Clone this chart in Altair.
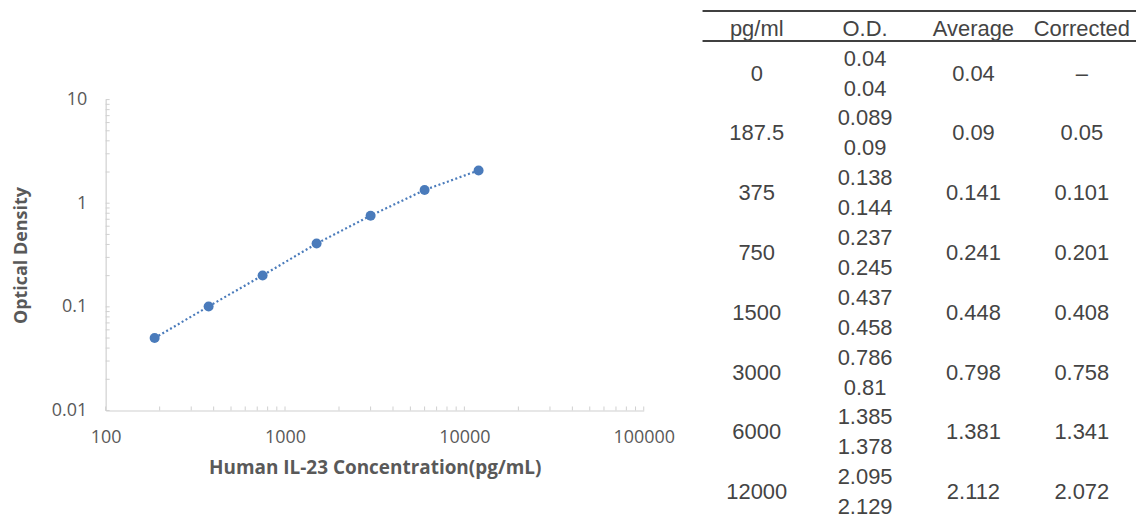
import altair as alt
import pandas as pd

# ---- standard curve data (corrected O.D. vs concentration) ----
conc = [187.5, 375, 750, 1500, 3000, 6000, 12000]
od_corrected = [0.05, 0.101, 0.201, 0.408, 0.758, 1.341, 2.072]

# ---- axis tick positions ----
x_major = [100, 1000, 10000, 100000]
y_major = [0.01, 0.1, 1, 10]
x_minor = [200, 300, 400, 500, 600, 700, 800, 900,
           2000, 3000, 4000, 5000, 6000, 7000, 8000, 9000,
           20000, 30000, 40000, 50000, 60000, 70000, 80000, 90000]
y_minor = [0.02, 0.03, 0.04, 0.05, 0.06, 0.07, 0.08, 0.09,
           0.2, 0.3, 0.4, 0.5, 0.6, 0.7, 0.8, 0.9,
           2, 3, 4, 5, 6, 7, 8, 9]

# ---- table data ----
headers = ["pg/ml", "O.D.", "Average", "Corrected"]
tbl_conc = ["0", "187.5", "375", "750", "1500", "3000", "6000", "12000"]
tbl_od1 = ["0.04", "0.089", "0.138", "0.237", "0.437", "0.786", "1.385", "2.095"]
tbl_od2 = ["0.04", "0.09", "0.144", "0.245", "0.458", "0.81", "1.378", "2.129"]
tbl_avg = ["0.04", "0.09", "0.141", "0.241", "0.448", "0.798", "1.381", "2.112"]
tbl_corr = ["–", "0.05", "0.101", "0.201", "0.408", "0.758", "1.341", "2.072"]

BLUE = "#4a7bbb"
AXIS_GREY = "#d0d0d0"
TEXT_GREY = "#595959"

W1, H1 = 540, 402
TOP1 = 90

curve = pd.DataFrame({"conc": conc, "od": od_corrected})
ticks_x = pd.DataFrame({"v": x_major + x_minor})
ticks_y = pd.DataFrame({"v": y_major + y_minor})

xscale = alt.Scale(type="log", domain=[100, 100000], nice=False)
yscale = alt.Scale(type="log", domain=[0.01, 10], nice=False, range=[H1, TOP1])

xaxis = alt.Axis(values=x_major, format="d", ticks=False, grid=False,
                 domainColor=AXIS_GREY, domainWidth=1.2,
                 labelColor=TEXT_GREY, labelFont="Open Sans", labelFontSize=18,
                 labelFlush=False, labelPadding=18,
                 title="Human IL-23 Concentration(pg/mL)",
                 titleFont="Open Sans", titleFontSize=19, titleFontWeight="bold",
                 titleColor=TEXT_GREY, titlePadding=12)
yaxis = alt.Axis(values=y_major, format="~g", ticks=False, grid=False,
                 domainColor=AXIS_GREY, domainWidth=1.2,
                 labelColor=TEXT_GREY, labelFont="Open Sans", labelFontSize=18,
                 labelFlush=False, labelPadding=19,
                 title="Optical Density",
                 titleFont="Open Sans", titleFontSize=18, titleFontWeight="bold",
                 titleColor=TEXT_GREY, titlePadding=21)

base = alt.Chart(curve)
line = base.mark_line(color=BLUE, strokeWidth=2.2, strokeDash=[2, 2.5]).encode(
    x=alt.X("conc:Q", scale=xscale, axis=xaxis),
    y=alt.Y("od:Q", scale=yscale, axis=yaxis),
)
pts = base.mark_circle(color=BLUE, size=100, opacity=1).encode(
    x=alt.X("conc:Q", scale=xscale),
    y=alt.Y("od:Q", scale=yscale),
)
xt = alt.Chart(ticks_x).mark_rule(color=AXIS_GREY, strokeWidth=1).encode(
    x=alt.X("v:Q", scale=xscale),
    y=alt.value(H1), y2=alt.value(H1 - 4),
)
yt = alt.Chart(ticks_y).mark_rule(color=AXIS_GREY, strokeWidth=1).encode(
    y=alt.Y("v:Q", scale=yscale),
    x=alt.value(0), x2=alt.value(4),
)
left = alt.layer(xt, yt, line, pts).properties(width=W1, height=H1)

# ---- table ----
rows = []
for h in headers:
    rows.append({"col": h, "u": 0.0, "t": h})
for k in range(len(tbl_conc)):
    rows.append({"col": "pg/ml", "u": 2 * k + 1.5, "t": tbl_conc[k]})
    rows.append({"col": "O.D.", "u": 2 * k + 1.0, "t": tbl_od1[k]})
    rows.append({"col": "O.D.", "u": 2 * k + 2.0, "t": tbl_od2[k]})
    rows.append({"col": "Average", "u": 2 * k + 1.5, "t": tbl_avg[k]})
    rows.append({"col": "Corrected", "u": 2 * k + 1.5, "t": tbl_corr[k]})
table_df = pd.DataFrame(rows)
rules_df = pd.DataFrame({"u": [-0.6, 0.41]})

W2, H2 = 435, 512
uscale = alt.Scale(domain=[-0.6333, 16.4333], reverse=True, nice=False, zero=False)

ttext = alt.Chart(table_df).mark_text(font="Liberation Sans", fontSize=22,
                                      color="#444444", baseline="middle",
                                      align="center").encode(
    x=alt.X("col:N", sort=headers, axis=None,
            scale=alt.Scale(paddingInner=0, paddingOuter=0)),
    y=alt.Y("u:Q", scale=uscale, axis=None),
    text="t:N",
)
trules = alt.Chart(rules_df).mark_rule(color="#404040", strokeWidth=2).encode(
    y=alt.Y("u:Q", scale=uscale, axis=None),
    x=alt.value(0), x2=alt.value(W2),
)
table = alt.layer(trules, ttext).properties(width=W2, height=H2)

chart = alt.hconcat(left, table, spacing=27).properties(
    padding={"left": 4, "top": 0, "right": 0, "bottom": 0}
).configure_view(strokeWidth=0)

chart.save("out.html", embed_options={"renderer": "svg", "actions": False})
